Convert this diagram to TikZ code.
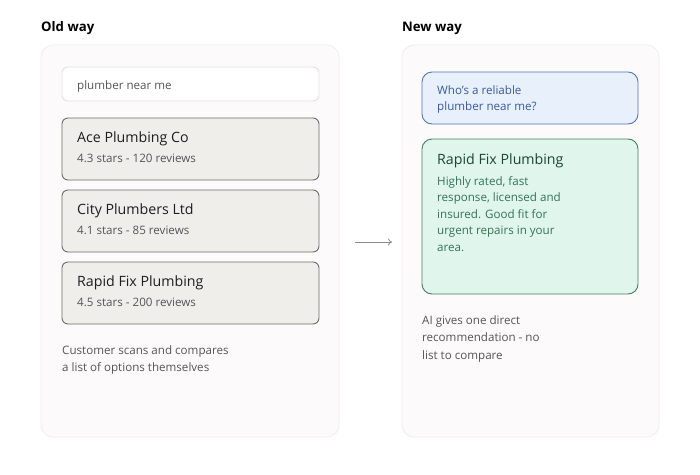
\documentclass[tikz,border=0pt]{standalone}
\usepackage{fontspec}
\usetikzlibrary{arrows.meta}
\setmainfont{Open Sans}
\definecolor{panelfill}{HTML}{FCFAFA}
\definecolor{panelline}{HTML}{EFEDED}
\definecolor{cardfill}{HTML}{F0EEEA}
\definecolor{cardline}{HTML}{6E6C6A}
\definecolor{searchline}{HTML}{E2E0E0}
\definecolor{txtdark}{HTML}{1E1E1E}
\definecolor{txtgray}{HTML}{555555}
\definecolor{qfill}{HTML}{E8F0FC}
\definecolor{qline}{HTML}{5376AE}
\definecolor{qtext}{HTML}{3A5B96}
\definecolor{gfill}{HTML}{E0F5EC}
\definecolor{gline}{HTML}{447D64}
\definecolor{gtitle}{HTML}{1B4634}
\definecolor{gtext}{HTML}{357456}
\definecolor{arrowc}{HTML}{8A8A8A}
\tikzset{
  panel/.style={draw=panelline, fill=panelfill, rounded corners=12pt, line width=0.8pt},
  searchbox/.style={draw=searchline, fill=white, rounded corners=6pt, line width=0.9pt},
  card/.style={draw=cardline, fill=cardfill, rounded corners=6pt, line width=0.9pt},
  qbox/.style={draw=qline, fill=qfill, rounded corners=10pt, line width=0.9pt},
  gbox/.style={draw=gline, fill=gfill, rounded corners=10pt, line width=0.9pt},
  heading/.style={anchor=base west, inner sep=0pt, font=\fontsize{13.2}{15}\selectfont\bfseries, text=black},
  ctitle/.style={anchor=base west, inner sep=0pt, font=\fontsize{14.2}{16}\selectfont, text=txtdark},
  csub/.style={anchor=base west, inner sep=0pt, font=\fontsize{11.6}{13}\selectfont, text=txtgray},
  caption/.style={anchor=north west, inner sep=0pt, align=left, font=\fontsize{11.6}{17.5}\selectfont, text=txtgray},
}
\begin{document}
\begin{tikzpicture}[x=1pt,y=-1pt]
\useasboundingbox (0,0) rectangle (700,474);
% headings
\node[heading] (h1) at (41,31) {Old way};
\node[heading] (h2) at (402,31) {New way};
% panels
\draw[panel] (41,45) rectangle (339,437);
\draw[panel] (402,45) rectangle (659,437);
% search
\draw[searchbox] (62,67) rectangle (319,101);
\node[csub] (search) at (77,89.5) {plumber near me};
% cards
\draw[card] (62,118) rectangle (319,180);
\node[ctitle] (c1t) at (77,142) {Ace Plumbing Co};
\node[csub] (c1s) at (77,162) {4.3 stars - 120 reviews};
\draw[card] (62,190) rectangle (319,252);
\node[ctitle] (c2t) at (77,214) {City Plumbers Ltd};
\node[csub] (c2s) at (77,234) {4.1 stars - 85 reviews};
\draw[card] (62,262) rectangle (319,324);
\node[ctitle] (c3t) at (77,286) {Rapid Fix Plumbing};
\node[csub] (c3s) at (77,306) {4.5 stars - 200 reviews};
\node[caption] (cap1) at (62,345) {Customer scans and compares\\a list of options themselves};
% arrow
\coordinate (a1) at (355,242);
\coordinate (a2) at (392,242);
\draw[arrowc, line width=0.8pt, -{To[length=4pt,width=7pt]}] (a1) -- (a2);
% right side
\draw[qbox] (422,72) rectangle (638,124);
\node[caption, text=qtext, font=\fontsize{11.6}{16.5}\selectfont] (q) at (437,85) {Who's a reliable\\plumber near me?};
\draw[gbox] (422,139) rectangle (638,294);
\node[ctitle, text=gtitle] (gt) at (437,164) {Rapid Fix Plumbing};
\node[caption, text=gtext, font=\fontsize{11.6}{16.6}\selectfont] (gb) at (437,176) {Highly rated, fast\\response, licensed and\\insured. Good fit for\\urgent repairs in your\\area.};
\node[caption] (cap2) at (422,315) {AI gives one direct\\recommendation - no\\list to compare};
\end{tikzpicture}
\end{document}
